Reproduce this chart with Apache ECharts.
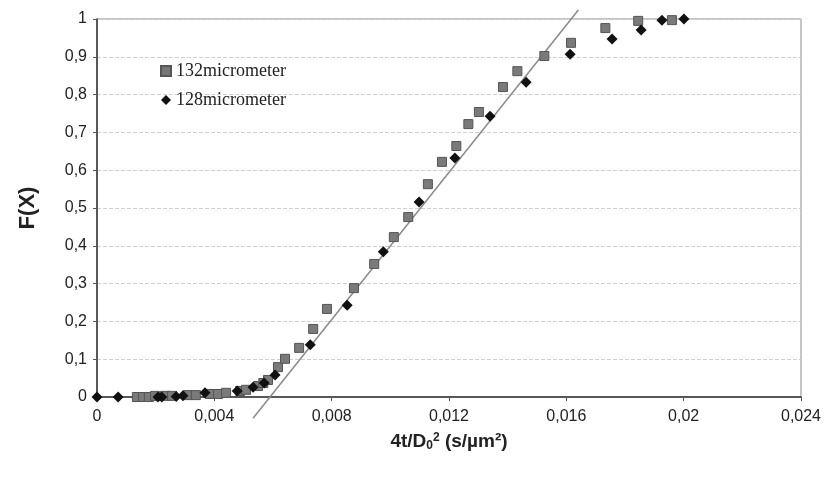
<!DOCTYPE html>
<html lang="en">
<head>
    <meta charset="UTF-8">
    <title>F(X) vs 4t/D0^2</title>
    <style>
        html, body {
            margin: 0;
            padding: 0;
            background: #fff;
        }
        #main {
            width: 825px;
            height: 477px;
        }
    </style>
    <script type="text/javascript" src="https://cdn.jsdelivr.net/npm/echarts@6/dist/echarts.min.js"></script>
</head>
<body>
<div id="main"></div>
<script type="text/javascript">
    // 132 micrometer (squares)
    var x132 = [0.00136, 0.00157, 0.00177, 0.00198, 0.00232, 0.00256, 0.0031, 0.00337, 0.00385, 0.00413,
        0.0044, 0.00488, 0.00508, 0.00549, 0.00567, 0.00583, 0.00617, 0.00641, 0.00689, 0.00737,
        0.00784, 0.00876, 0.00945, 0.01012, 0.01061, 0.01128, 0.01176, 0.01225, 0.01266, 0.01302,
        0.01384, 0.01433, 0.01525, 0.01616, 0.01733, 0.01845, 0.0196];
    var y132 = [0, 0, 0, 0.003, 0.003, 0.003, 0.005, 0.005, 0.008, 0.008,
        0.011, 0.016, 0.019, 0.029, 0.037, 0.045, 0.079, 0.101, 0.13, 0.18,
        0.233, 0.288, 0.352, 0.423, 0.476, 0.563, 0.622, 0.664, 0.722, 0.754,
        0.82, 0.862, 0.902, 0.937, 0.976, 0.995, 0.997];
    // 128 micrometer (diamonds)
    var x128 = [0, 0.00072, 0.00208, 0.00221, 0.0027, 0.00293, 0.00368, 0.00478, 0.00532, 0.0057,
        0.00607, 0.00727, 0.00853, 0.00976, 0.01098, 0.0122, 0.0134, 0.01463, 0.01613, 0.01756,
        0.01855, 0.01926, 0.02001];
    var y128 = [0, 0, 0, 0, 0.001, 0.003, 0.011, 0.016, 0.026, 0.037,
        0.058, 0.138, 0.243, 0.384, 0.516, 0.632, 0.743, 0.833, 0.907, 0.947,
        0.971, 0.997, 1.0];
    // fitted straight line (end points)
    var fitX = [0.00532, 0.01641];
    var fitY = [-0.056, 1.024];

    function pairs(xs, ys) {
        var out = [];
        for (var i = 0; i < xs.length; i++) out.push([xs[i], ys[i]]);
        return out;
    }
    function comma(v) {
        return String(+v.toFixed(4)).replace('.', ',');
    }

    var chart = echarts.init(document.getElementById('main'));
    var option = {
        animation: false,
        backgroundColor: '#fff',
        grid: {
            left: 97, right: 24, top: 19, bottom: 80,
            outerBoundsMode: 'none', containLabel: false,
            show: true, borderColor: '#8a8a8a', borderWidth: 1
        },
        legend: {
            orient: 'vertical',
            left: 155, top: 57,
            itemWidth: 10, itemHeight: 10, itemGap: 11,
            textStyle: {fontFamily: 'Liberation Serif', fontSize: 18, color: '#222'},
            data: [
                {name: '132micrometer', icon: 'rect', itemStyle: {color: '#777', borderColor: '#555'}},
                {name: '128micrometer', icon: 'diamond', itemStyle: {color: '#111'}}
            ]
        },
        xAxis: {
            type: 'value', min: 0, max: 0.024, interval: 0.004,
            name: '{a|4t/D}{s|0}{p|2}{a| (s/µm²)}',
            nameLocation: 'middle', nameGap: 35,
            nameTextStyle: {
                rich: {
                    a: {fontFamily: 'Liberation Sans', fontSize: 19, fontWeight: 'bold', color: '#222'},
                    s: {fontFamily: 'Liberation Sans', fontSize: 12, fontWeight: 'bold', color: '#222', verticalAlign: 'bottom', padding: [8, 0, 0, 0]},
                    p: {fontFamily: 'Liberation Sans', fontSize: 12, fontWeight: 'bold', color: '#222', verticalAlign: 'top', padding: [0, 0, 8, 0]}
                }
            },
            axisLine: {lineStyle: {color: '#333', width: 1.5}},
            axisTick: {show: true, length: 4, lineStyle: {color: '#555'}},
            axisLabel: {
                fontFamily: 'Liberation Sans', fontSize: 16, color: '#222', margin: 12,
                formatter: comma
            },
            splitLine: {show: false}
        },
        yAxis: {
            type: 'value', min: 0, max: 1, interval: 0.1,
            name: 'F(X)', nameLocation: 'middle', nameGap: 58,
            nameTextStyle: {fontFamily: 'Liberation Sans', fontSize: 22, fontWeight: 'bold', color: '#222'},
            axisLine: {show: true, lineStyle: {color: '#333', width: 1.5}},
            axisTick: {show: true, length: 4, lineStyle: {color: '#555'}},
            axisLabel: {
                fontFamily: 'Liberation Sans', fontSize: 16, color: '#222', margin: 10,
                formatter: comma
            },
            splitLine: {show: true, lineStyle: {color: '#d0d0d0', type: 'dashed', width: 1}}
        },
        series: [
            {
                name: 'fit', type: 'line', data: pairs(fitX, fitY),
                showSymbol: false, symbol: 'none', clip: false, silent: true,
                lineStyle: {color: '#8a8a8a', width: 1.5}, z: 1
            },
            {
                name: '132micrometer', type: 'scatter', data: pairs(x132, y132),
                symbol: 'rect', symbolSize: 9, clip: false,
                itemStyle: {color: '#7a7a7a', borderColor: '#555', borderWidth: 1, opacity: 1}, z: 2
            },
            {
                name: '128micrometer', type: 'scatter', data: pairs(x128, y128),
                symbol: 'diamond', symbolSize: 11, clip: false,
                itemStyle: {color: '#111', opacity: 1}, z: 3
            }
        ]
    };
    chart.setOption(option);
</script>
</body>
</html>
